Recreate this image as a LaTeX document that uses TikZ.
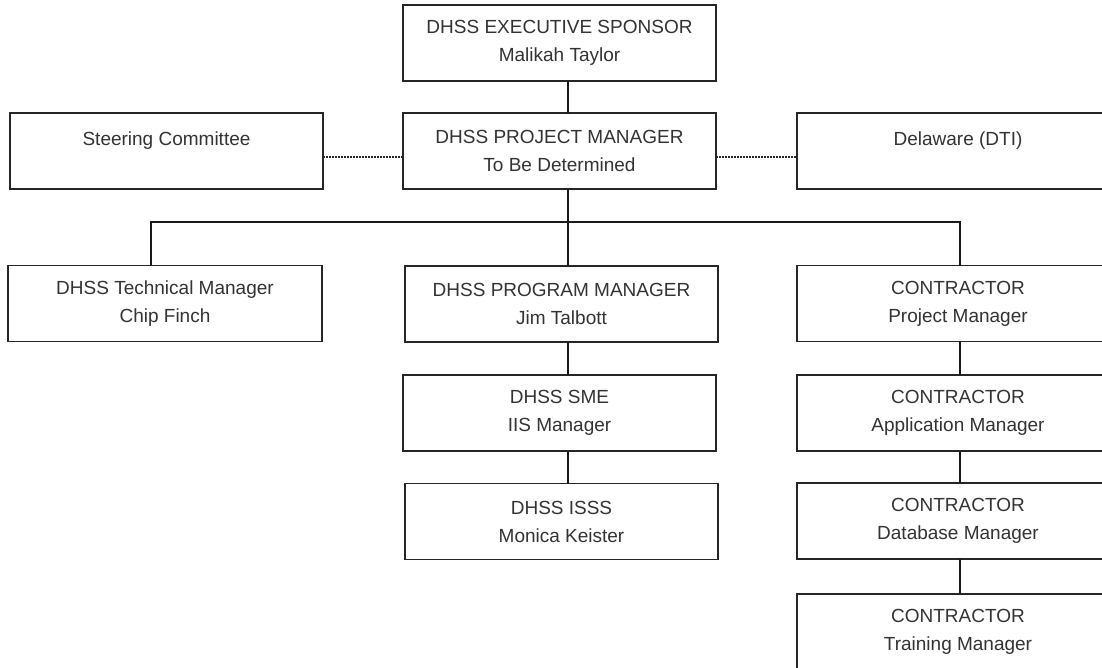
\documentclass[tikz,border=0pt]{standalone}
\usepackage{fontspec}
\setmainfont{Liberation Sans}
\begin{document}
\begin{tikzpicture}[x=1pt,y=-1pt,
  box/.style={draw=black!85, line width=1.6pt, rectangle, minimum width=#1,
    minimum height=76pt, inner sep=0pt, outer sep=0pt, align=center,
    font=\fontsize{19}{28}\selectfont, text=black!80},
  single/.style={text height=14pt, text depth=26pt},
  link/.style={draw=black!90, line width=1.6pt},
  dotlink/.style={draw=black!85, line width=1.3pt, dash pattern=on 1.5pt off 1.5pt}]
\useasboundingbox (0,0) rectangle (1102,667);
\clip (0,0) rectangle (1102,667);
\fill[white] (0,0) rectangle (1102,667);
% boxes
\node[box=313pt] (exec)  at (559.5,43)  {DHSS EXECUTIVE SPONSOR\\Malikah Taylor};
\node[box=313pt] (pm)    at (559.5,151) {DHSS PROJECT MANAGER\\To Be Determined};
\node[box=313pt, single] (steer) at (166.5,151) {Steering Committee};
\node[box=322pt, single] (dela)  at (958,151)   {Delaware (DTI)};
\node[box=314pt] (tech)  at (165,303.5) {DHSS Technical Manager\\Chip Finch};
\node[box=313pt] (prog)  at (561.5,304) {DHSS PROGRAM MANAGER\\Jim Talbott};
\node[box=313pt] (sme)   at (559.5,413) {DHSS SME\\IIS Manager};
\node[box=313pt] (isss)  at (561.5,521.5) {DHSS ISSS\\Monica Keister};
\node[box=322pt] (cpm)   at (958,303.5) {CONTRACTOR\\Project Manager};
\node[box=322pt] (app)   at (958,413)   {CONTRACTOR\\Application Manager};
\node[box=322pt] (db)    at (958,521)   {CONTRACTOR\\Database Manager};
\node[box=322pt] (train) at (958,632)   {CONTRACTOR\\Training Manager};
% helper coordinates
\coordinate (cx) at (568,0);
\coordinate (tx) at (151,0);
\coordinate (kx) at (960,0);
\coordinate (bus) at (0,222);
\coordinate (dy) at (0,157);
% solid connectors
\draw[link] (exec.south -| cx) -- (pm.north -| cx);
\draw[link] (pm.south -| cx) -- (prog.north -| cx);
\draw[link] (tech.north -| tx) -- (tx |- bus) -- (kx |- bus) -- (cpm.north -| kx);
\draw[link] (prog.south -| cx) -- (sme.north -| cx);
\draw[link] (sme.south -| cx) -- (isss.north -| cx);
\draw[link] (cpm.south -| kx) -- (app.north -| kx);
\draw[link] (app.south -| kx) -- (db.north -| kx);
\draw[link] (db.south -| kx) -- (train.north -| kx);
% dotted connectors
\draw[dotlink] (steer.east |- dy) -- (pm.west |- dy);
\draw[dotlink] (pm.east |- dy) -- (dela.west |- dy);
\end{tikzpicture}
\end{document}
